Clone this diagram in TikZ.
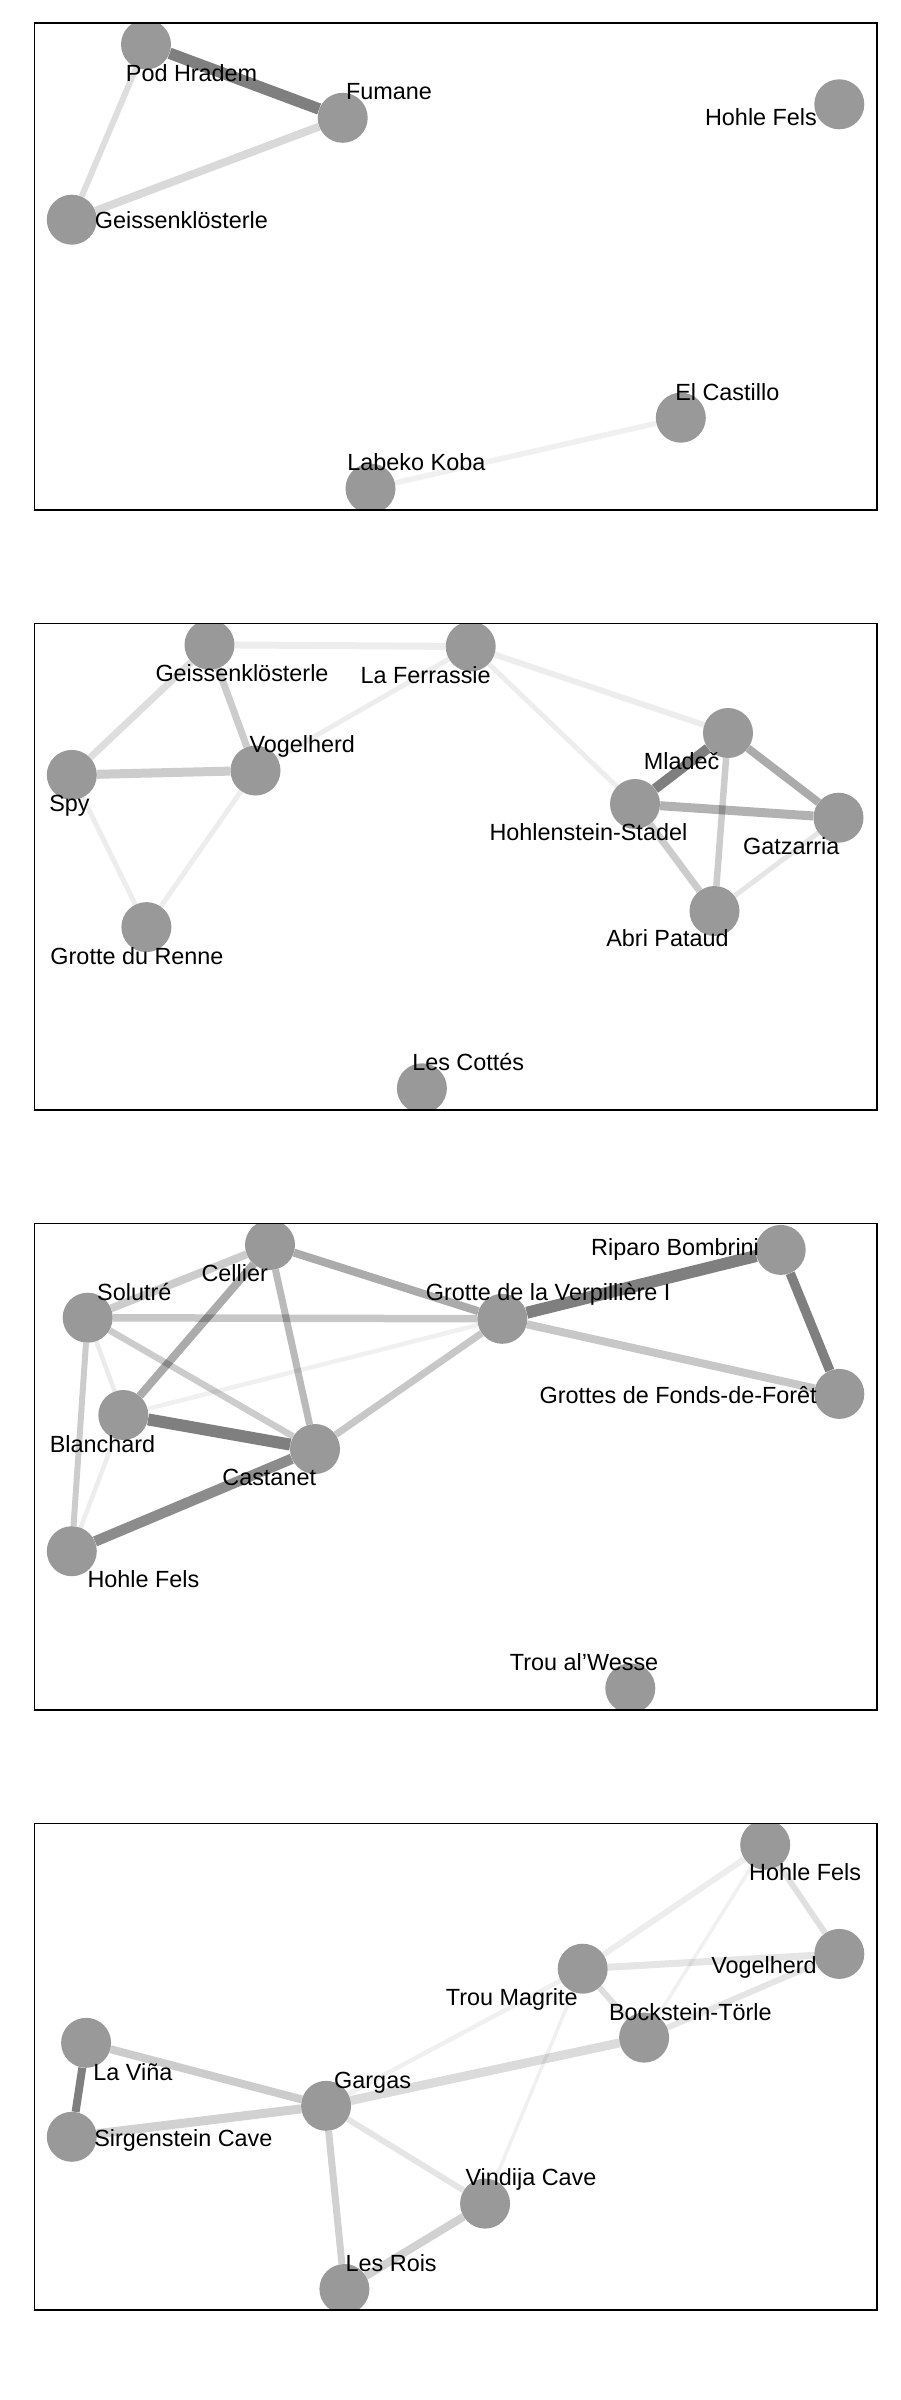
\documentclass[tikz,border=0pt]{standalone}
\usepackage{fontspec}
\setmainfont{Liberation Sans}
\usetikzlibrary{backgrounds}
\definecolor{SiteGray}{RGB}{153,153,153}

\begin{document}
\begin{tikzpicture}[
    x=1pt, y=-1pt,
    site/.style={circle, fill=SiteGray, minimum size=50pt, inner sep=0pt},
    sitename/.style={font=\fontsize{23.4}{28}\selectfont, text height=16.7pt, text depth=0pt, inner sep=0pt},
    tie/.style 2 args={draw=black, draw opacity=#1, line width=#2pt},
    panelbox/.style={draw=black, line width=1.8pt}
  ]
  \useasboundingbox (0,0) rectangle (900,2400);

  % panel 1
  \begin{scope}
    \clip (34.4,23.4) rectangle (876.6,509.6);
    \node (podhradem) [site] at (146,44.5) {};
    \node (fumane) [site] at (342.7,117.8) {};
    \node (geiss1) [site] at (71.8,219.7) {};
    \node (hohlefels1) [site] at (839.3,104.3) {};
    \node (castillo) [site] at (680.8,417.7) {};
    \node (labeko) [site] at (370.5,488.5) {};
  \end{scope}
  \begin{scope}[on background layer]
    \draw [tie={.5}{11.5}] (podhradem) -- (fumane);
    \draw [tie={.13}{6}] (podhradem) -- (geiss1);
    \draw [tie={.15}{8}] (geiss1) -- (fumane);
    \draw [tie={.06}{5.5}] (labeko) -- (castillo);
  \end{scope}
  \node (podhradem-lbl) [sitename] at (191.6,73) {Pod Hradem};
  \node (fumane-lbl) [sitename] at (389,91.3) {Fumane};
  \node (geiss1-lbl) [sitename] at (181.4,219.7) {Geissenklösterle};
  \node (hohlefels1-lbl) [sitename] at (761,117.1) {Hohle Fels};
  \node (castillo-lbl) [sitename] at (727.3,392.6) {El Castillo};
  \node (labeko-lbl) [sitename] at (416.4,462.5) {Labeko Koba};
  \draw [panelbox] (34.4,23.4) rectangle (876.6,509.6);

  % panel 2
  \begin{scope}
    \clip (34.4,623.4) rectangle (876.6,1109.6);
    \node (geiss2) [site] at (209.5,644.8) {};
    \node (ferrassie) [site] at (470.7,646.5) {};
    \node (vogelherd2) [site] at (255.5,770.5) {};
    \node (spy) [site] at (71.8,774.9) {};
    \node (renne) [site] at (146.4,927.1) {};
    \node (mladec) [site] at (728,733) {};
    \node (stadel) [site] at (635,804) {};
    \node (gatzarria) [site] at (838.5,817.7) {};
    \node (pataud) [site] at (714.5,911) {};
    \node (cottes) [site] at (421.9,1088.3) {};
  \end{scope}
  \begin{scope}[on background layer]
    \draw [tie={.07}{7}] (geiss2) -- (ferrassie);
    \draw [tie={.13}{7}] (geiss2) -- (spy);
    \draw [tie={.2}{7}] (geiss2) -- (vogelherd2);
    \draw [tie={.2}{9}] (spy) -- (vogelherd2);
    \draw [tie={.07}{5}] (spy) -- (renne);
    \draw [tie={.07}{5}] (vogelherd2) -- (renne);
    \draw [tie={.07}{5}] (vogelherd2) -- (ferrassie);
    \draw [tie={.07}{6}] (ferrassie) -- (mladec);
    \draw [tie={.07}{5}] (ferrassie) -- (stadel);
    \draw [tie={.5}{10}] (mladec) -- (stadel);
    \draw [tie={.33}{8}] (mladec) -- (gatzarria);
    \draw [tie={.2}{6.5}] (mladec) -- (pataud);
    \draw [tie={.3}{9}] (stadel) -- (gatzarria);
    \draw [tie={.2}{7}] (stadel) -- (pataud);
    \draw [tie={.1}{5}] (gatzarria) -- (pataud);
  \end{scope}
  \node (geiss2-lbl) [sitename] at (242,673) {Geissenklösterle};
  \node (ferrassie-lbl) [sitename] at (425.7,675.1) {La Ferrassie};
  \node (vogelherd2-lbl) [sitename] at (302.2,743.9) {Vogelherd};
  \node (spy-lbl) [sitename] at (69.5,803) {Spy};
  \node (renne-lbl) [sitename] at (137,955.7) {Grotte du Renne};
  \node (mladec-lbl) [sitename] at (681.7,761.2) {Mladeč};
  \node (stadel-lbl) [sitename] at (588.4,832.4) {Hohlenstein-Stadel};
  \node (gatzarria-lbl) [sitename] at (791.3,845.8) {Gatzarria};
  \node (pataud-lbl) [sitename] at (667.5,938) {Abri Pataud};
  \node (cottes-lbl) [sitename] at (468.2,1062.5) {Les Cottés};
  \draw [panelbox] (34.4,623.4) rectangle (876.6,1109.6);

  % panel 3
  \begin{scope}
    \clip (34.4,1223.4) rectangle (876.6,1709.6);
    \node (cellier) [site] at (270,1245) {};
    \node (solutre) [site] at (87.7,1317.7) {};
    \node (verpilliere) [site] at (502.3,1318.8) {};
    \node (bombrini) [site] at (780.7,1249.9) {};
    \node (fonds) [site] at (839.3,1393.9) {};
    \node (blanchard) [site] at (123.3,1415) {};
    \node (castanet) [site] at (315,1449) {};
    \node (hohlefels3) [site] at (71.8,1551.2) {};
    \node (wesse) [site] at (630.3,1688.3) {};
  \end{scope}
  \begin{scope}[on background layer]
    \draw [tie={.2}{8}] (cellier) -- (solutre);
    \draw [tie={.33}{8}] (cellier) -- (verpilliere);
    \draw [tie={.33}{8}] (cellier) -- (blanchard);
    \draw [tie={.27}{7}] (cellier) -- (castanet);
    \draw [tie={.22}{7.5}] (solutre) -- (verpilliere);
    \draw [tie={.2}{6.5}] (solutre) -- (castanet);
    \draw [tie={.08}{4.5}] (solutre) -- (blanchard);
    \draw [tie={.2}{6}] (solutre) -- (hohlefels3);
    \draw [tie={.06}{4.5}] (blanchard) -- (verpilliere);
    \draw [tie={.5}{12}] (blanchard) -- (castanet);
    \draw [tie={.07}{4.5}] (blanchard) -- (hohlefels3);
    \draw [tie={.22}{7}] (castanet) -- (verpilliere);
    \draw [tie={.45}{10.5}] (castanet) -- (hohlefels3);
    \draw [tie={.5}{12}] (verpilliere) -- (bombrini);
    \draw [tie={.22}{8}] (verpilliere) -- (fonds);
    \draw [tie={.5}{9.5}] (bombrini) -- (fonds);
  \end{scope}
  \node (cellier-lbl) [sitename] at (234.7,1272.8) {Cellier};
  \node (solutre-lbl) [sitename] at (134.3,1291.7) {Solutré};
  \node (verpilliere-lbl) [sitename] at (548.2,1292.3) {Grotte de la Verpillière I};
  \node (bombrini-lbl) [sitename] at (675.1,1247.5) {Riparo Bombrini};
  \node (fonds-lbl) [sitename] at (678.2,1395.2) {Grottes de Fonds-de-Forêt};
  \node (blanchard-lbl) [sitename] at (102.5,1443.8) {Blanchard};
  \node (castanet-lbl) [sitename] at (269.2,1477.2) {Castanet};
  \node (hohlefels3-lbl) [sitename] at (143.5,1578.8) {Hohle Fels};
  \node (wesse-lbl) [sitename] at (584.1,1662.5) {Trou al'Wesse};
  \draw [panelbox] (34.4,1223.4) rectangle (876.6,1709.6);

  % panel 4
  \begin{scope}
    \clip (34.4,1823.4) rectangle (876.6,2309.6);
    \node (hohlefels4) [site] at (765.2,1844.8) {};
    \node (vogelherd4) [site] at (839.3,1953.9) {};
    \node (magrite) [site] at (582.7,1968.7) {};
    \node (bockstein) [site] at (644.1,2037.6) {};
    \node (vina) [site] at (86.1,2042.8) {};
    \node (gargas) [site] at (326.1,2105.8) {};
    \node (sirgenstein) [site] at (71.8,2136.8) {};
    \node (vindija) [site] at (485.1,2203.6) {};
    \node (rois) [site] at (344.4,2289) {};
  \end{scope}
  \begin{scope}[on background layer]
    \draw [tie={.07}{6}] (hohlefels4) -- (magrite);
    \draw [tie={.06}{3.5}] (hohlefels4) -- (bockstein);
    \draw [tie={.12}{6}] (hohlefels4) -- (vogelherd4);
    \draw [tie={.1}{7}] (magrite) -- (vogelherd4);
    \draw [tie={.13}{6}] (magrite) -- (bockstein);
    \draw [tie={.06}{4.5}] (magrite) -- (gargas);
    \draw [tie={.06}{3.5}] (magrite) -- (vindija);
    \draw [tie={.1}{6}] (vogelherd4) -- (bockstein);
    \draw [tie={.14}{9}] (bockstein) -- (gargas);
    \draw [tie={.2}{8}] (vina) -- (gargas);
    \draw [tie={.5}{8}] (vina) -- (sirgenstein);
    \draw [tie={.18}{9}] (sirgenstein) -- (gargas);
    \draw [tie={.1}{6}] (gargas) -- (vindija);
    \draw [tie={.18}{7}] (gargas) -- (rois);
    \draw [tie={.18}{8}] (vindija) -- (rois);
  \end{scope}
  \node (hohlefels4-lbl) [sitename] at (805.1,1872.3) {Hohle Fels};
  \node (vogelherd4-lbl) [sitename] at (764,1965.3) {Vogelherd};
  \node (magrite-lbl) [sitename] at (511.8,1997) {Trou Magrite};
  \node (bockstein-lbl) [sitename] at (690.3,2012.5) {Bockstein-Törle};
  \node (vina-lbl) [sitename] at (132.9,2072) {La Viña};
  \node (gargas-lbl) [sitename] at (372.6,2080.6) {Gargas};
  \node (sirgenstein-lbl) [sitename] at (183.4,2138.2) {Sirgenstein Cave};
  \node (vindija-lbl) [sitename] at (531,2177) {Vindija Cave};
  \node (rois-lbl) [sitename] at (391.2,2263.2) {Les Rois};
  \draw [panelbox] (34.4,1823.4) rectangle (876.6,2309.6);
\end{tikzpicture}
\end{document}
